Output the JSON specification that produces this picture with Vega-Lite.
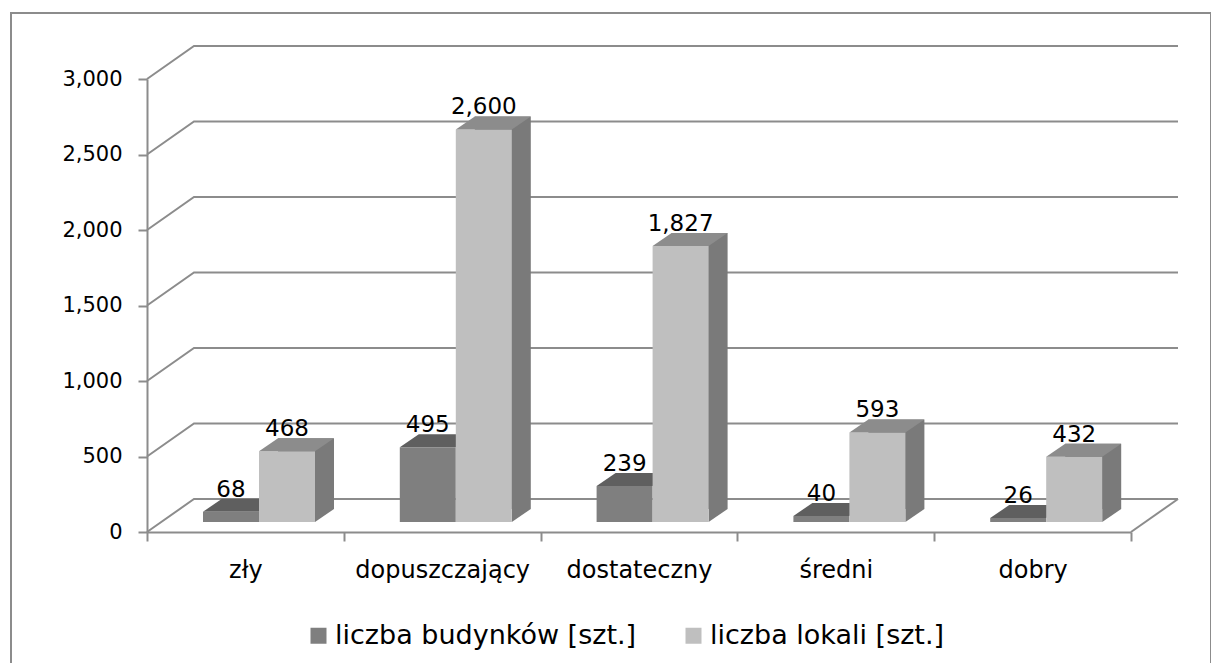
{
"$schema":"https://vega.github.io/schema/vega-lite/v6.json",
"width":1200,"height":660,
"padding":{"left":11,"top":13,"right":0,"bottom":0},
"autosize":{"type":"none"},
"background":"white",
"view":{"stroke":"#8c8c8c","strokeWidth":2,"fill":"white"},
"config":{"font":"DejaVu Sans","numberFormat":",",
"axisX":{"title":null,"labelAngle":0,"offset":-141,"tickBand":"extent","domainColor":"#8c8c8c","domainWidth":2,"tickColor":"#8c8c8c","tickWidth":2,"tickSize":9,"labelFontSize":24,"labelColor":"#000000","labelPadding":17,"grid":false},
"axisY":{"title":null,"offset":-136,"domainColor":"#8c8c8c","domainWidth":2,"tickColor":"#8c8c8c","tickWidth":2,"tickSize":9,"labelFontSize":21,"labelColor":"#000000","labelPadding":16,"grid":false}},
"datasets":{
"bars":[
{"stan":"zły","seria":"liczba budynków [szt.]","wartosc":68},
{"stan":"zły","seria":"liczba lokali [szt.]","wartosc":468},
{"stan":"dopuszczający","seria":"liczba budynków [szt.]","wartosc":495},
{"stan":"dopuszczający","seria":"liczba lokali [szt.]","wartosc":2600},
{"stan":"dostateczny","seria":"liczba budynków [szt.]","wartosc":239},
{"stan":"dostateczny","seria":"liczba lokali [szt.]","wartosc":1827},
{"stan":"średni","seria":"liczba budynków [szt.]","wartosc":40},
{"stan":"średni","seria":"liczba lokali [szt.]","wartosc":593},
{"stan":"dobry","seria":"liczba budynków [szt.]","wartosc":26},
{"stan":"dobry","seria":"liczba lokali [szt.]","wartosc":432}
],
"grid":[{"v":0},{"v":500},{"v":1000},{"v":1500},{"v":2000},{"v":2500},{"v":3000}]
},
"data":{"name":"bars"},
"encoding":{
"x":{"field":"stan","type":"nominal","sort":null,
"scale":{"domain":["zły","dopuszczający","dostateczny","średni","dobry"],"range":[136,1120],"paddingInner":0,"paddingOuter":0},
"axis":{"title":null}},
"xOffset":{"field":"seria","type":"nominal","scale":{"domain":["liczba budynków [szt.]","liczba lokali [szt.]"],"range":[56,168],"paddingInner":0,"paddingOuter":0}},
"y":{"field":"wartosc","type":"quantitative",
"scale":{"domain":[0,3000],"range":[519,66],"nice":false},
"axis":{"title":null,"values":[0,500,1000,1500,2000,2500,3000],"labelExpr":"format(datum.value, ',')"}}
},
"layer":[
{"data":{"name":"grid"},
"mark":{"type":"point","filled":false,"stroke":"#8c8c8c","strokeWidth":2,"size":4,"fill":null,"opacity":1,
"shape":"M0,0L47,-33L1031,-33"},
"encoding":{"x":{"datum":"zły","bandPosition":0,"title":null},"xOffset":{"value":0},"y":{"field":"v","type":"quantitative","title":null,"axis":{"title":null,"values":[0,500,1000,1500,2000,2500,3000],"labelExpr":"format(datum.value, ',')"}}}},
{"data":{"values":[{"v":0}]},
"mark":{"type":"point","filled":false,"stroke":"#8c8c8c","strokeWidth":2,"size":4,"fill":null,"opacity":1,
"shape":"M984,0L1031,-33"},
"encoding":{"x":{"datum":"zły","bandPosition":0,"title":null},"xOffset":{"value":0},"y":{"field":"v","type":"quantitative","title":null,"axis":{"title":null,"values":[0,500,1000,1500,2000,2500,3000],"labelExpr":"format(datum.value, ',')"}}}},
{"transform":[{"filter":"datum.seria === 'liczba budynków [szt.]'"}],
"mark":{"type":"point","filled":true,"fill":"#5f5f5f","stroke":null,"opacity":1,"size":4,"shape":"M-28,-10L28,-10L47,-23L-9,-23Z"}},
{"transform":[{"filter":"datum.seria === 'liczba lokali [szt.]'"}],
"mark":{"type":"bar","width":56,"fill":"#7a7a7a","xOffset":60.6,"yOffset":-23},
"encoding":{"xOffset":null}},
{"transform":[{"filter":"datum.seria === 'liczba lokali [szt.]'"}],
"mark":{"type":"point","filled":true,"fill":"#7a7a7a","stroke":null,"opacity":1,"size":4,"shape":"M28,-10L47,-23L28,-23Z"},
"encoding":{"y":{"datum":0,"type":"quantitative","title":null,"axis":{"title":null,"values":[0,500,1000,1500,2000,2500,3000],"labelExpr":"format(datum.value, ',')"}}}},
{"mark":{"type":"bar","width":56,"yOffset":-10},
"encoding":{"fill":{"field":"seria","type":"nominal",
"scale":{"domain":["liczba budynków [szt.]","liczba lokali [szt.]"],"range":["#7f7f7f","#bfbfbf"]},
"legend":{"title":null,"orient":"none","legendX":294,"legendY":609,"direction":"horizontal","columns":2,"symbolType":"square","symbolSize":256,"symbolStrokeWidth":0,"labelFontSize":27,"labelColor":"#000000","columnPadding":43,"labelOffset":3,"labelLimit":500}}}},
{"transform":[{"filter":"datum.seria === 'liczba lokali [szt.]'"}],
"mark":{"type":"point","filled":true,"fill":"#8c8c8c","stroke":null,"opacity":1,"size":4,"shape":"M-28,-10L28,-10L47,-23L-9,-23Z"}},
{"mark":{"type":"text","fontSize":23,"color":"#000000","baseline":"alphabetic","align":"center","dy":-25},
"encoding":{"text":{"field":"wartosc","type":"quantitative","format":","}}}
]
}
